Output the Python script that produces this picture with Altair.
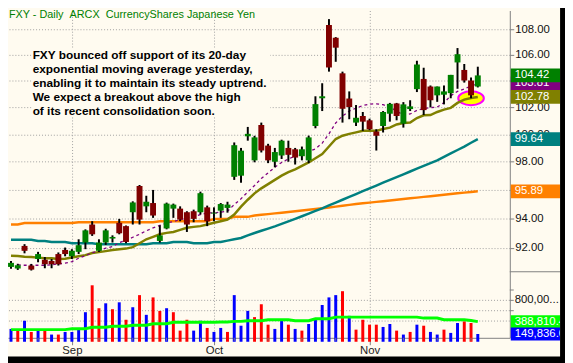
import altair as alt
import pandas as pd

# ---------------- data ----------------
days = list(range(70))
opens = [90.71, 90.60, 92.12, 90.80, 91.24, 91.19, 91.11, 91.57, 91.85, 91.42,
         91.72, 92.35, 93.58, 91.79, 92.35, 92.62, 93.70, 93.47, 94.43, 96.27,
         94.84, 95.07, 92.46, 93.31, 94.68, 94.68, 94.43, 94.50, 94.43, 94.77,
         94.34, 94.54, 94.73, 96.92, 97.00, 99.85, 98.10, 100.69, 99.17, 98.00,
         98.45, 99.00, 98.90, 98.40, 98.10, 100.61, 102.68, 108.36, 107.35, 104.58,
         102.66, 100.86, 101.35, 101.03, 100.20, 100.61, 101.52, 102.29, 100.78, 101.87,
         103.37, 104.15, 103.57, 102.90, 102.95, 103.07, 105.42, 104.84, 104.03, 103.57]
highs = [91.11, 90.92, 92.24, 90.91, 91.72, 91.37, 91.24, 91.68, 92.01, 91.90,
         92.57, 93.25, 93.81, 92.57, 93.29, 92.84, 93.97, 93.52, 95.19, 96.34,
         95.58, 95.99, 93.52, 95.10, 95.03, 94.84, 94.50, 94.61, 95.87, 94.89,
         94.77, 95.07, 95.16, 99.40, 99.00, 100.54, 99.89, 100.86, 99.30, 99.00,
         99.60, 99.53, 99.00, 99.10, 99.90, 102.83, 103.82, 108.83, 107.40, 104.71,
         103.20, 102.17, 101.65, 101.15, 100.37, 101.72, 102.33, 102.33, 102.39, 102.53,
         105.55, 105.01, 103.65, 103.57, 103.65, 104.46, 106.54, 105.30, 104.26, 105.09]
lows = [90.58, 90.51, 91.62, 90.47, 91.02, 90.62, 90.62, 90.80, 91.42, 91.24,
        91.57, 91.90, 92.80, 91.72, 92.19, 92.35, 92.91, 92.30, 93.58, 93.58,
        94.43, 94.04, 92.35, 93.25, 94.04, 93.81, 93.07, 93.74, 94.27, 93.47,
        93.81, 94.04, 94.40, 96.70, 96.50, 99.53, 97.96, 98.67, 97.90, 97.60,
        98.20, 98.00, 97.80, 98.10, 97.90, 100.44, 101.72, 104.71, 105.47, 100.86,
        101.11, 100.61, 100.25, 100.30, 98.81, 100.13, 100.93, 101.03, 100.49, 101.72,
        103.15, 101.42, 102.00, 102.41, 102.22, 102.68, 103.40, 103.87, 102.68, 103.50]
closes = [90.98, 90.82, 91.79, 90.53, 91.57, 90.89, 90.89, 90.89, 91.57, 91.79,
          92.17, 93.18, 92.91, 92.35, 93.18, 92.73, 92.98, 92.39, 95.11, 93.92,
          95.16, 94.20, 92.84, 95.03, 94.96, 93.92, 93.58, 93.97, 95.76, 93.81,
          94.40, 95.00, 94.96, 99.20, 98.80, 100.03, 99.77, 98.81, 98.10, 98.70,
          99.53, 98.50, 98.30, 98.90, 99.77, 102.24, 102.83, 105.03, 106.57, 101.89,
          102.02, 101.22, 100.93, 100.37, 99.89, 101.65, 102.26, 101.35, 102.22, 102.07,
          105.26, 101.79, 102.53, 103.57, 103.20, 104.46, 106.06, 104.03, 102.90, 104.42]

ma10 = [None, 90.85, 90.82, 90.82, 90.82, 90.82, 90.85, 90.91, 90.96, 91.06,
        91.29, 91.46, 91.67, 91.79, 91.97, 92.08, 92.34, 92.50, 92.71, 92.91,
        93.15, 93.35, 93.52, 93.69, 93.79, 93.92, 94.03, 94.13, 94.27, 94.38,
        94.38, 94.44, 94.50, 94.96, 95.37, 95.85, 96.30, 96.80, 97.20, 97.60,
        97.95, 98.20, 98.40, 98.60, 98.75, 98.93, 99.35, 100.03, 100.83, 101.35,
        101.72, 101.94, 102.13, 102.24, 102.26, 102.20, 102.02, 101.72, 101.42, 101.50,
        101.77, 101.90, 101.98, 102.02, 102.35, 102.87, 103.20, 103.39, 103.61, 103.81]
ema20 = [91.46, 91.44, 91.39, 91.37, 91.33, 91.29, 91.29, 91.24, 91.26, 91.34,
         91.42, 91.50, 91.64, 91.70, 91.77, 91.84, 91.90, 91.94, 92.04, 92.30,
         92.57, 92.74, 92.91, 93.01, 93.07, 93.21, 93.36, 93.42, 93.47, 93.58,
         93.70, 93.81, 93.92, 94.27, 94.82, 95.30, 95.75, 96.10, 96.40, 96.70,
         97.00, 97.25, 97.45, 97.70, 97.95, 98.25, 98.55, 99.10, 99.65, 99.89,
         100.03, 100.14, 100.25, 100.25, 100.25, 100.39, 100.49, 100.72, 100.83, 100.86,
         101.20, 101.40, 101.42, 101.65, 101.83, 101.96, 102.33, 102.58, 102.70, 102.78]
ma50 = [92.54, 92.54, 92.54, 92.54, 92.46, 92.46, 92.39, 92.39, 92.39, 92.30,
        92.30, 92.30, 92.30, 92.24, 92.24, 92.24, 92.24, 92.24, 92.24, 92.24,
        92.24, 92.30, 92.30, 92.30, 92.39, 92.39, 92.39, 92.30, 92.30, 92.30,
        92.39, 92.39, 92.48, 92.57, 92.66, 92.84, 93.00, 93.15, 93.30, 93.45,
        93.62, 93.80, 93.97, 94.15, 94.33, 94.52, 94.70, 94.90, 95.10, 95.30,
        95.50, 95.70, 95.90, 96.10, 96.30, 96.50, 96.70, 96.90, 97.10, 97.30,
        97.50, 97.70, 97.90, 98.10, 98.35, 98.60, 98.85, 99.10, 99.38, 99.64]
ma200 = [93.58, 93.58, 93.69, 93.69, 93.69, 93.69, 93.69, 93.69, 93.69, 93.69,
         93.74, 93.74, 93.74, 93.74, 93.74, 93.74, 93.74, 93.74, 93.74, 93.74,
         93.74, 93.74, 93.81, 93.81, 93.81, 93.81, 93.81, 93.81, 93.81, 93.81,
         93.97, 93.97, 93.97, 94.11, 94.11, 94.11, 94.20, 94.25, 94.30, 94.35,
         94.40, 94.45, 94.50, 94.55, 94.60, 94.65, 94.70, 94.76, 94.82, 94.88,
         94.94, 95.00, 95.05, 95.10, 95.15, 95.20, 95.25, 95.30, 95.35, 95.40,
         95.45, 95.50, 95.55, 95.60, 95.65, 95.70, 95.75, 95.80, 95.85, 95.89]

volumes = [248000, 234000, 406000, 190000, 215000, 234000, 139000, 139000, 190000, 190000,
           267000, 571000, 1091000, 648000, 743000, 629000, 762000, 425000, 667000, 901000,
           520000, 857000, 596000, 648000, 571000, 215000, 425000, 215000, 406000, 267000,
           190000, 267000, 190000, 901000, 310000, 596000, 476000, 724000, 330000, 248000,
           406000, 330000, 248000, 215000, 343000, 438000, 710000, 857000, 901000, 977000,
           501000, 234000, 425000, 330000, 330000, 286000, 343000, 215000, 139000, 190000,
           330000, 310000, 190000, 139000, 234000, 171000, 362000, 394000, 362000, 149836]
vol_dir = ["up", "down", "up", "down", "up", "down", "up", "down", "up", "up",
           "up", "up", "down", "down", "up", "down", "up", "down", "up", "down",
           "up", "down", "down", "up", "down", "down", "down", "up", "up", "down",
           "up", "up", "down", "up", "up", "up", "down", "down", "down", "up",
           "up", "down", "up", "down", "up", "up", "up", "up", "up", "down",
           "up", "down", "down", "down", "down", "up", "up", "down", "up", "down",
           "up", "down", "up", "up", "down", "up", "up", "down", "down", "up"]
vol_avg = [234000, 234000, 234000, 234000, 234000, 234000, 234000, 234000, 234000, 253000,
           253000, 253000, 280000, 280000, 280000, 299000, 299000, 299000, 318000, 318000,
           318000, 349000, 349000, 349000, 375000, 375000, 375000, 375000, 375000, 375000,
           375000, 381000, 381000, 394000, 394000, 406000, 406000, 406000, 425000, 425000,
           425000, 425000, 406000, 406000, 406000, 444000, 444000, 444000, 476000, 476000,
           476000, 476000, 476000, 476000, 476000, 476000, 476000, 476000, 476000, 476000,
           476000, 457000, 457000, 457000, 425000, 425000, 425000, 425000, 410000, 388810]

month_days = [9, 30, 53]
month_names = ["Sep", "Oct", "Nov"]
week_days = [4, 13, 18, 23, 28, 33, 38, 43, 48, 58, 63, 68]
price_ticks = [92, 94, 96, 98, 100, 102, 104, 106, 108]
vol_grid = [800000, 600000, 400000]
vol_ticks = [1000000, 800000, 600000]

box_values = [103.81, 104.42, 102.78, 99.64, 95.89]
box_labels = ["103.81", "104.42", "102.78", "99.64", "95.89"]
box_colors = ["#800080", "#008000", "#808000", "#008080", "#FF8000"]
vbox_values = [388810.4, 149836.0]
vbox_labels = ["388,810.4", "149,836.0"]
vbox_colors = ["#00FF00", "#0000FF"]

highlight_day = [68]
highlight_price = [102.68]

title_text = "FXY - Daily\u00a0\u00a0ARCX\u00a0\u00a0CurrencyShares Japanese Yen"
note_lines = ["FXY bounced off support of its 20-day",
              "exponential moving average yesterday,",
              "enabling it to maintain its steady uptrend.",
              "We expect a breakout above the high",
              "of its recent consolidation soon."]

# ---------------- styling ----------------
BG = "#FFFBF0"
GRID = "#A0A0A0"
AX = "#808080"
FONT = "Liberation Sans"
W, H = 509, 332

cdf = pd.DataFrame({"day": days, "o": opens, "h": highs, "l": lows, "c": closes,
                    "ma10": ma10, "ema20": ema20, "ma50": ma50, "ma200": ma200})
cdf["dir"] = ["up" if c >= o else "down" for o, c in zip(opens, closes)]
vdf = pd.DataFrame({"day": days, "vol": volumes, "vdir": vol_dir, "vavg": vol_avg})
one = pd.DataFrame({"a": [0]})

xscale = alt.Scale(domain=[2 / 7, 73.0], nice=False, zero=False)
label_expr = "".join(f"datum.value == {d} ? '{n}' : " for d, n in zip(month_days, month_names)) + "''"
xaxis = alt.Axis(values=month_days, labelExpr=label_expr, title=None, grid=True,
                 gridDash=[1, 2], gridColor=GRID, tickSize=7, tickColor=AX, domainColor=AX,
                 labelFont=FONT, labelFontSize=11.5, labelColor="#222", labelPadding=0,
                 labelFlush=False, labelOverlap=False)
X = alt.X("day:Q", scale=xscale, axis=xaxis)

pscale = alt.Scale(type="log", domain=[86.104, 109.521], nice=False, zero=False)
paxis = alt.Axis(orient="right", values=price_ticks, format=".2f", title=None, grid=True,
                 gridDash=[1, 2], gridColor=GRID, tickSize=4, tickColor=AX, domainColor=AX,
                 labelFont=FONT, labelFontSize=11.5, labelColor="#111", labelPadding=1,
                 labelOverlap=False, labelFlush=False)


def PY(field):
    return alt.Y(f"{field}:Q", scale=pscale, axis=paxis)


vscale = alt.Scale(domain=[76190, 6400128], nice=False, zero=False)


def VY(field):
    return alt.Y(f"{field}:Q", scale=vscale, axis=None)


base = alt.Chart(cdf)

ellipse = alt.Chart(pd.DataFrame({"day": highlight_day, "p": highlight_price})).mark_point(
    shape="M-1,0A1,0.54,0,1,0,1,0A1,0.54,0,1,0,-1,0Z", size=676, filled=True,
    fill="#FFFF00", stroke="#FF00FF", strokeWidth=2, opacity=1
).encode(x=X, y=PY("p"))

line200 = base.mark_line(color="#FF8000", strokeWidth=2.5).encode(x=X, y=PY("ma200"))
line50 = base.mark_line(color="#008080", strokeWidth=2.5).encode(x=X, y=PY("ma50"))
line20 = base.mark_line(color="#808000", strokeWidth=2.5).encode(x=X, y=PY("ema20"))
line10 = base.mark_line(color="#800080", strokeWidth=1.3, strokeDash=[3, 3]).encode(x=X, y=PY("ma10"))

wicks = base.mark_rule(color="black", strokeWidth=2).encode(x=X, y=PY("l"), y2="h:Q")
bodies = base.mark_bar(size=6).encode(
    x=X, y=PY("o"), y2="c:Q",
    color=alt.Color("dir:N", scale=alt.Scale(domain=["up", "down"], range=["#008000", "#800000"]), legend=None))

box_layers = []
for v, lab, col in zip(box_values, box_labels, box_colors):
    d = pd.DataFrame({"p": [v], "t": [lab]})
    box_layers.append(alt.Chart(d).mark_point(
        shape="M-1,-0.28L1,-0.28L1,0.28L-1,0.28Z", size=2500, filled=True,
        color=col, opacity=1).encode(x=alt.value(535), y=PY("p")))
    box_layers.append(alt.Chart(d).mark_text(
        align="left", baseline="middle", color="white", font=FONT, fontSize=11.5).encode(
        x=alt.value(514), y=PY("p"), text="t:N"))

price_group = alt.layer(ellipse, line200, line50, line20, line10, wicks, bodies, *box_layers)

vgrid = alt.Chart(pd.DataFrame({"v": vol_grid})).mark_rule(
    color=GRID, strokeDash=[1, 2]).encode(y=VY("v"))
vbars = alt.Chart(vdf).mark_bar(size=3).encode(
    x=X, y=VY("vol"), y2=alt.value(H),
    color=alt.Color("vdir:N", scale=alt.Scale(domain=["up", "down"], range=["#0000FF", "#FF0000"]), legend=None))
vline = alt.Chart(vdf).mark_line(color="#00FF00", strokeWidth=3).encode(x=X, y=VY("vavg"))
vticks = alt.Chart(pd.DataFrame({"v": vol_ticks})).mark_rule(color=AX).encode(
    y=VY("v"), x=alt.value(W), x2=alt.value(W + 4))
vlabel = alt.Chart(pd.DataFrame({"v": [800000], "t": ["800,00..."]})).mark_text(
    align="left", baseline="middle", color="#111", font=FONT, fontSize=11.5).encode(
    y=VY("v"), x=alt.value(W + 5), text="t:N")
wticks = alt.Chart(pd.DataFrame({"day": week_days})).mark_rule(color=AX).encode(
    x=X, y=alt.value(H), y2=alt.value(H + 3))
vbox_layers = []
for v, lab, col in zip(vbox_values, vbox_labels, vbox_colors):
    d = pd.DataFrame({"v": [v], "t": [lab]})
    vbox_layers.append(alt.Chart(d).mark_point(
        shape="M-1,-0.26L1,-0.26L1,0.26L-1,0.26Z", size=2500, filled=True,
        color=col, opacity=1).encode(x=alt.value(535), y=VY("v")))
    vbox_layers.append(alt.Chart(d).mark_text(
        align="left", baseline="middle", color="white", font=FONT, fontSize=11.5).encode(
        x=alt.value(514), y=VY("v"), text="t:N"))

volume_group = alt.layer(vgrid, vbars, vline, vticks, vlabel, wticks, *vbox_layers)

sep = alt.Chart(one).mark_rule(color=AX).encode(
    x=alt.value(W), x2=alt.value(W + 60), y=alt.value(265))
note_bg = alt.Chart(one).mark_rect(color=BG).encode(
    x=alt.value(24), x2=alt.value(266), y=alt.value(38), y2=alt.value(107))
note = alt.Chart(one).mark_text(
    align="left", baseline="alphabetic", font=FONT, fontSize=12, fontWeight="bold",
    color="black", lineHeight=14.3).encode(
    x=alt.value(25), y=alt.value(49.3), text=alt.value(note_lines))
title = alt.Chart(one).mark_text(
    align="left", baseline="alphabetic", font=FONT, fontSize=11, color="#008000").encode(
    x=alt.value(1), y=alt.value(8), text=alt.value(title_text))
black_r = alt.Chart(one).mark_rect(color="black").encode(
    x=alt.value(W + 51), x2=alt.value(W + 70), y=alt.value(-10), y2=alt.value(H + 30))
black_b = alt.Chart(one).mark_rect(color="black").encode(
    x=alt.value(-10), x2=alt.value(W + 70), y=alt.value(H + 19), y2=alt.value(H + 30))

frame_group = alt.layer(sep, note_bg, note, title, black_r, black_b)

chart = alt.layer(price_group, volume_group, frame_group).resolve_scale(
    y="independent", color="independent"
).properties(
    width=W, height=H,
    padding={"left": 0, "top": 0, "right": 56, "bottom": 23},
    autosize=alt.AutoSizeParams(type="none"),
    background=BG,
).configure_view(stroke=None)

chart.save("out.html", embed_options={"renderer": "svg", "actions": False})
